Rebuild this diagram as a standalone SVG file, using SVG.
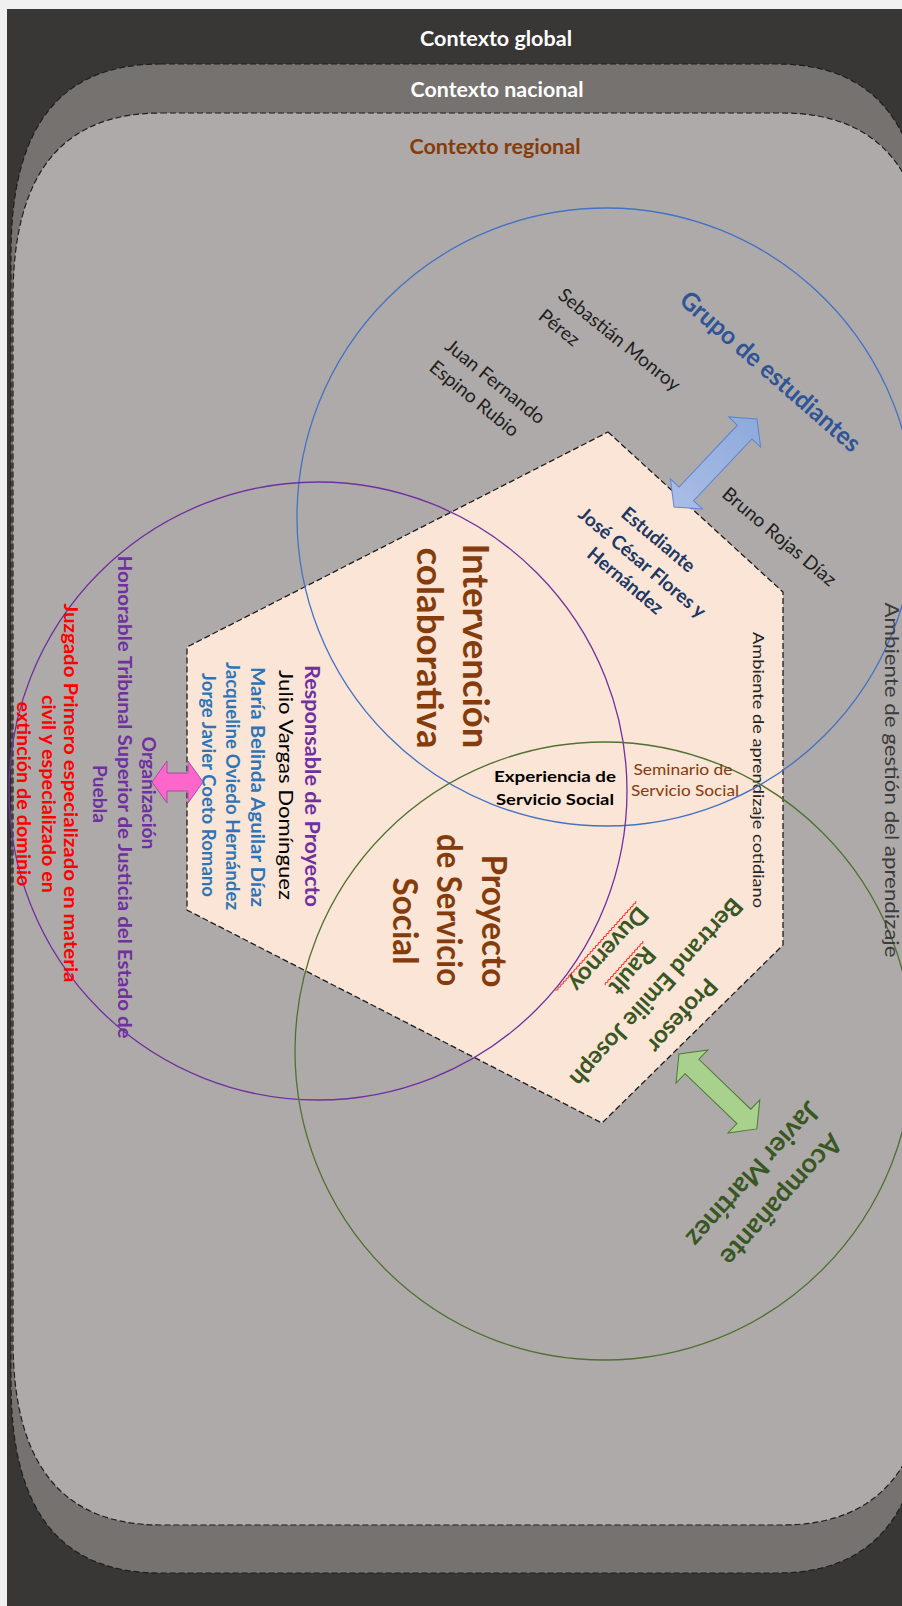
<svg xmlns="http://www.w3.org/2000/svg" width="902" height="1606" viewBox="0 0 902 1606">
<style>
.t{font-family:Lato,"Open Sans","Liberation Sans",sans-serif}
.b{font-weight:700}
.ctx{stroke:#1e1e1e;stroke-width:1.2;stroke-dasharray:6 3}
.circ{fill:none;stroke-width:1.3}
.dk{fill:#1f1f1f}
.brown{fill:#843c0c}
.purple{fill:#7030a0}
.blue{fill:#2e75b6}
.navy{fill:#203864}
.green{fill:#385723}
.red{fill:#ff0000}
</style>
<defs>
<linearGradient id="gBlue" x1="0" y1="0" x2="1" y2="0">
<stop offset="0" stop-color="#a9bde6"/>
<stop offset="1" stop-color="#8eaadb"/>
</linearGradient>
</defs>
<rect width="902" height="1606" fill="#f0f0f0"/>
<g id="contexto-global">
<rect x="7" y="9" width="895" height="1597" fill="#383735"/>
<text class="t b" x="496" y="46" text-anchor="middle" font-size="20" fill="#ffffff" textLength="152" lengthAdjust="spacingAndGlyphs">Contexto global</text>
</g>
<g id="contexto-nacional">
<path class="ctx" fill="#767270" d="M160,64 H777 C874,64 925,124 925,254 V1383 C925,1513 874,1573 777,1573 H160 C62,1573 11,1513 11,1383 V254 C11,124 62,64 160,64 Z"/>
<text class="t b" x="497" y="97" text-anchor="middle" font-size="20" fill="#ffffff" textLength="173" lengthAdjust="spacingAndGlyphs">Contexto nacional</text>
</g>
<g id="contexto-regional">
<path class="ctx" fill="#aeaaa9" d="M161,113 H782 C880,113 930,172 930,298 V1340 C930,1466 880,1525 782,1525 H161 C63,1525 13,1466 13,1340 V298 C13,172 63,113 161,113 Z"/>
<text class="t b brown" x="495" y="154" text-anchor="middle" font-size="20" textLength="171" lengthAdjust="spacingAndGlyphs">Contexto regional</text>
</g>
<g id="ambiente-cotidiano">
<polygon points="608,432 783,592 783,945 602,1123 187,910 187,647" fill="#fbe5d6" stroke="#1e1e1e" stroke-width="1.3" stroke-dasharray="6 3"/>
<text class="t" transform="translate(753 770) rotate(90)" text-anchor="middle" font-size="15" fill="#262626" textLength="276" lengthAdjust="spacingAndGlyphs">Ambiente de aprendizaje cotidiano</text>
</g>
<g id="circulos">
<circle id="circ-estudiantes" class="circ" cx="606" cy="517" r="309" stroke="#4472c4"/>
<circle id="circ-organizacion" class="circ" cx="318" cy="791" r="309" stroke="#7030a0"/>
<circle id="circ-acompanante" class="circ" cx="604" cy="1051" r="309" stroke="#4f7232"/>
</g>
<g id="conectores">
<polygon transform="translate(674 507) rotate(-46.7)" points="0,0 18,-22 18,-10 103,-10 103,-22 121,0 103,22 103,10 18,10 18,22" fill="url(#gBlue)" stroke="#5b85d1" stroke-width="1"/>
<polygon transform="translate(679 1054) rotate(43.9)" points="0,0 18,-23 18,-10 90,-10 90,-23 108,0 90,23 90,10 18,10 18,23" fill="#a9d18e" stroke="#4f7a32" stroke-width="1"/>
<polygon points="152,782 167,761 167,773 188,773 188,761 203,782 188,803 188,791 167,791 167,803" fill="#ff66cc" stroke="#a14fa6" stroke-width="1"/>
</g>
<g id="intervencion">
<text class="t b brown" transform="translate(463 646) rotate(90)" text-anchor="middle" font-size="36" textLength="205" lengthAdjust="spacingAndGlyphs">Intervención</text>
<text class="t b brown" transform="translate(417 648) rotate(90)" text-anchor="middle" font-size="36" textLength="201" lengthAdjust="spacingAndGlyphs">colaborativa</text>
</g>
<g id="proyecto">
<text class="t b brown" transform="translate(482 921) rotate(90)" text-anchor="middle" font-size="34" textLength="133" lengthAdjust="spacingAndGlyphs">Proyecto</text>
<text class="t b brown" transform="translate(437 910) rotate(90)" text-anchor="middle" font-size="34" textLength="152" lengthAdjust="spacingAndGlyphs">de Servicio</text>
<text class="t b brown" transform="translate(393 921) rotate(90)" text-anchor="middle" font-size="34" textLength="87" lengthAdjust="spacingAndGlyphs">Social</text>
</g>
<g id="experiencia">
<text class="t b" x="555" y="782" text-anchor="middle" font-size="15.5" fill="#000" textLength="122" lengthAdjust="spacingAndGlyphs">Experiencia de</text>
<text class="t b" x="555" y="805" text-anchor="middle" font-size="15.5" fill="#000" textLength="118" lengthAdjust="spacingAndGlyphs">Servicio Social</text>
</g>
<g id="seminario">
<text class="t brown" x="683" y="775" text-anchor="middle" font-size="15" textLength="99" lengthAdjust="spacingAndGlyphs">Seminario de</text>
<text class="t brown" x="685" y="796" text-anchor="middle" font-size="15" textLength="108" lengthAdjust="spacingAndGlyphs">Servicio Social</text>
</g>
<g id="ambiente-gestion">
<text class="t" transform="translate(885 780) rotate(90)" text-anchor="middle" font-size="20" fill="#3b3b3b" textLength="355" lengthAdjust="spacingAndGlyphs">Ambiente de gestión del aprendizaje</text>
</g>
<g id="grupo-estudiantes">
<text class="t b" transform="translate(770 372) rotate(41)" y="8" text-anchor="middle" font-size="25" fill="#2f5597" textLength="230" lengthAdjust="spacingAndGlyphs">Grupo de estudiantes</text>
<text class="t dk" transform="translate(619 340) rotate(39)" y="6" text-anchor="middle" font-size="19">Sebastián Monroy</text>
<text class="t dk" transform="translate(559 328) rotate(39)" y="6" text-anchor="middle" font-size="19">Pérez</text>
<text class="t dk" transform="translate(495 382) rotate(39)" y="6" text-anchor="middle" font-size="19">Juan Fernando</text>
<text class="t dk" transform="translate(474 399) rotate(39)" y="6" text-anchor="middle" font-size="19">Espino Rubio</text>
<text class="t dk" transform="translate(779 537) rotate(40)" y="6" text-anchor="middle" font-size="19">Bruno Rojas Díaz</text>
</g>
<g id="estudiante">
<text class="t b navy" transform="translate(658 540) rotate(40)" y="6" text-anchor="middle" font-size="19">Estudiante</text>
<text class="t b navy" transform="translate(642 563) rotate(40)" y="6" text-anchor="middle" font-size="19">José César Flores y</text>
<text class="t b navy" transform="translate(625 581) rotate(40)" y="6" text-anchor="middle" font-size="19">Hernández</text>
</g>
<g id="responsable">
<text class="t b purple" transform="translate(305 786) rotate(90)" text-anchor="middle" font-size="20" textLength="242" lengthAdjust="spacingAndGlyphs">Responsable de Proyecto</text>
<text class="t" transform="translate(279 785) rotate(90)" text-anchor="middle" font-size="20" fill="#000" textLength="230" lengthAdjust="spacingAndGlyphs">Julio Vargas Domínguez</text>
<text class="t b blue" transform="translate(251 787) rotate(90)" text-anchor="middle" font-size="19" textLength="240" lengthAdjust="spacingAndGlyphs">María Belinda Aguilar Díaz</text>
<text class="t b blue" transform="translate(226 786) rotate(90)" text-anchor="middle" font-size="18" textLength="248" lengthAdjust="spacingAndGlyphs">Jacqueline Oviedo Hernández</text>
<text class="t b blue" transform="translate(202 785) rotate(90)" text-anchor="middle" font-size="18" textLength="224" lengthAdjust="spacingAndGlyphs">Jorge Javier Coeto Romano</text>
</g>
<g id="organizacion">
<text class="t b purple" transform="translate(142 793) rotate(90)" text-anchor="middle" font-size="19" textLength="113" lengthAdjust="spacingAndGlyphs">Organización</text>
<text class="t b purple" transform="translate(118 797) rotate(90)" text-anchor="middle" font-size="19" textLength="483" lengthAdjust="spacingAndGlyphs">Honorable Tribunal Superior de Justicia del Estado de</text>
<text class="t b purple" transform="translate(93 794) rotate(90)" text-anchor="middle" font-size="19" textLength="58" lengthAdjust="spacingAndGlyphs">Puebla</text>
<text class="t b red" transform="translate(64 793) rotate(90)" text-anchor="middle" font-size="19" textLength="379" lengthAdjust="spacingAndGlyphs">Juzgado Primero especializado en materia</text>
<text class="t b red" transform="translate(42 794) rotate(90)" text-anchor="middle" font-size="19" textLength="198" lengthAdjust="spacingAndGlyphs">civil y especializado en</text>
<text class="t b red" transform="translate(17 794) rotate(90)" text-anchor="middle" font-size="19" textLength="185" lengthAdjust="spacingAndGlyphs">extinción de dominio</text>
</g>
<g id="profesor" transform="translate(645 982) rotate(132)">
<text class="t b green" x="0" y="-42" text-anchor="middle" font-size="24">Profesor</text>
<text class="t b green" x="0" y="-7" text-anchor="middle" font-size="24">Bertrand Emilie Joseph</text>
<text class="t b green" x="0" y="25" text-anchor="middle" font-size="24">Rault</text>
<text class="t b green" x="0" y="57" text-anchor="middle" font-size="24">Duvernoy</text>
<path d="M-29,29 l2 -1.5 2 1.5 2 -1.5 2 1.5 2 -1.5 2 1.5 2 -1.5 2 1.5 2 -1.5 2 1.5 2 -1.5 2 1.5 2 -1.5 2 1.5 2 -1.5 2 1.5 2 -1.5 2 1.5 2 -1.5 2 1.5 2 -1.5 2 1.5 2 -1.5 2 1.5 2 -1.5 2 1.5 2 -1.5 2 1.5 2 -1.5" fill="none" stroke="#ff2020" stroke-width="0.9"/>
<path d="M-54,61 l2 -1.5 2 1.5 2 -1.5 2 1.5 2 -1.5 2 1.5 2 -1.5 2 1.5 2 -1.5 2 1.5 2 -1.5 2 1.5 2 -1.5 2 1.5 2 -1.5 2 1.5 2 -1.5 2 1.5 2 -1.5 2 1.5 2 -1.5 2 1.5 2 -1.5 2 1.5 2 -1.5 2 1.5 2 -1.5 2 1.5 2 -1.5 2 1.5 2 -1.5 2 1.5 2 -1.5 2 1.5 2 -1.5 2 1.5 2 -1.5 2 1.5 2 -1.5 2 1.5 2 -1.5 2 1.5 2 -1.5 2 1.5 2 -1.5 2 1.5 2 -1.5 2 1.5 2 -1.5 2 1.5 2 -1.5 2 1.5 2 -1.5 2 1.5 2 -1.5 2 1.5 2 -1.5 2 1.5 2 -1.5 2 1.5" fill="none" stroke="#ff2020" stroke-width="0.9"/>
</g>
<g id="acompanante" transform="translate(767 1187) rotate(132)">
<text class="t b green" x="0" y="-10" text-anchor="middle" font-size="27">Acompañante</text>
<text class="t b green" x="0" y="28" text-anchor="middle" font-size="27">Javier Martínez</text>
</g>
</svg>
